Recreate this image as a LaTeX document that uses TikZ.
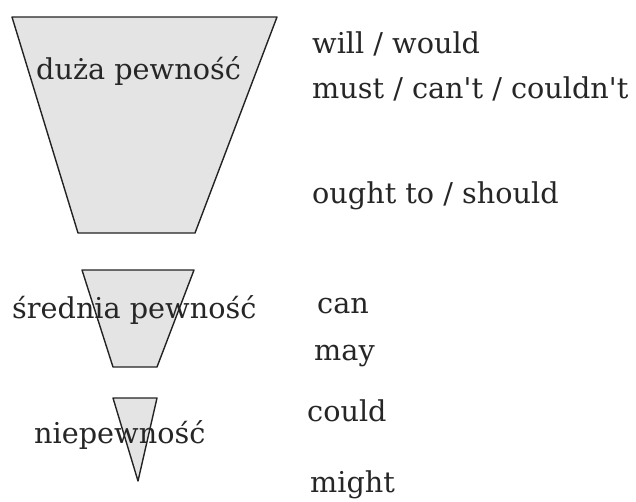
\documentclass[tikz,border=0pt]{standalone}
\usepackage{fontspec}
\setmainfont[Ligatures=TeXOff]{DejaVu Serif}
\definecolor{cupfill}{RGB}{228,228,228}
\definecolor{cupline}{RGB}{35,35,35}
\begin{document}
\begin{tikzpicture}[x=1pt,y=-1pt,every node/.style={font=\fontsize{28.7}{33}\selectfont,inner sep=0pt,anchor=base west,text=black!85}]
    \useasboundingbox (0,0) rectangle (636,501);
    \tikzset{cup/.style={fill=cupfill,draw=cupline,line width=1.4pt,line join=round}}
    % trapezoids
    \draw[cup] (12,17) -- (277,17) -- (195,233) -- (78,233) -- cycle;
    \draw[cup] (82,270) -- (194,270) -- (157,367) -- (113,367) -- cycle;
    \draw[cup] (113,398) -- (157,398) -- (138,481) -- cycle;
    % labels on the cups
    \node (high) at (36,79) {duża pewność};
    \node (mid) at (12,318) {średnia pewność};
    \node (low) at (34,443) {niepewność};
    % modal verbs
    \node (will) at (312,53) {will / would};
    \node (must) at (312,98) {must / can't / couldn't};
    \node (ought) at (312,203) {ought to / should};
    \node (can) at (317,313) {can};
    \node (may) at (314,360) {may};
    \node (could) at (307,421) {could};
    \node (might) at (310,492) {might};
\end{tikzpicture}
\end{document}
